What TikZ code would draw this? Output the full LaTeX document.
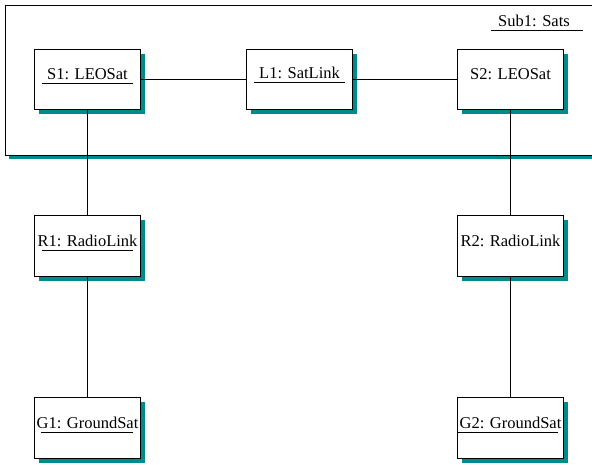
\documentclass[tikz,border=0pt]{standalone}
\usepackage{fontspec}
\setmainfont{Liberation Serif}
\usetikzlibrary{shadows,calc}
\definecolor{shadowteal}{RGB}{0,139,139}
\tikzset{
  objbox/.style={draw=black, line width=1pt, fill=white, rectangle,
    minimum width=106pt, minimum height=60pt, inner sep=0pt,
    general shadow={fill=shadowteal, shadow xshift=4pt, shadow yshift=-4pt}},
  objtext/.style={anchor=base, font=\fontsize{16.5}{18}\selectfont, text depth=0pt,
    inner sep=0pt},
  uline/.style={line width=1pt},
  conn/.style={line width=1pt}
}
\begin{document}
\begin{tikzpicture}[x=1pt,y=-1pt]
\useasboundingbox[fill=white] (0,0) rectangle (592,464);
% subsystem frame
\node[draw=black, line width=1.3pt, fill=white, rectangle, anchor=north west,
  minimum width=620pt, minimum height=150pt, inner sep=0pt,
  general shadow={fill=shadowteal, shadow xshift=4pt, shadow yshift=-3.5pt}] (sub) at (4.5,4.5) {};
\node[objtext] (subt) at (534,26) {Sub1: Sats};
\draw[uline] ($(subt.base)+(-43,4.5)$) -- ($(subt.base)+(49,4.5)$);
% objects
\node[objbox] (s1) at (87.5,79.5) {};
\node[objbox] (l1) at (299.5,79.5) {};
\node[objbox] (s2) at (510.5,79.5) {};
\node[objbox, minimum height=61pt] (r1) at (87.5,246) {};
\node[objbox, minimum height=61pt] (r2) at (510.5,246) {};
\node[objbox, minimum height=61pt] (g1) at (87.5,428) {};
\node[objbox, minimum height=61pt] (g2) at (510.5,428) {};
% labels
\node[objtext] (s1t) at (87.5,79) {S1: LEOSat};
\draw[uline] ($(s1t.base)+(-45.5,4.5)$) -- ($(s1t.base)+(45.5,4.5)$);
\node[objtext] (l1t) at (299.5,78) {L1: SatLink};
\draw[uline] ($(l1t.base)+(-45.5,4.5)$) -- ($(l1t.base)+(45.5,4.5)$);
\node[objtext] (s2t) at (510.5,79) {S2: LEOSat};
\node[objtext] (r1t) at (87.5,246) {R1: RadioLink};
\draw[uline] ($(r1t.base)+(-45.5,4.5)$) -- ($(r1t.base)+(45.5,4.5)$);
\node[objtext] (r2t) at (510.5,246) {R2: RadioLink};
\node[objtext] (g1t) at (87.5,428) {G1: GroundSat};
\draw[uline] ($(g1t.base)+(-46.5,4.5)$) -- ($(g1t.base)+(45.5,4.5)$);
\node[objtext] (g2t) at (510.5,428) {G2: GroundSat};
\draw[uline] ($(g2t.base)+(-52.5,4.5)$) -- ($(g2t.base)+(47,4.5)$);
% connectors
\draw[conn] (s1.east) -- (l1.west);
\draw[conn] (l1.east) -- (s2.west);
\draw[conn] (s1.south) -- (r1.north);
\draw[conn] (r1.south) -- (g1.north);
\draw[conn] (s2.south) -- (r2.north);
\draw[conn] (r2.south) -- (g2.north);
\end{tikzpicture}
\end{document}
